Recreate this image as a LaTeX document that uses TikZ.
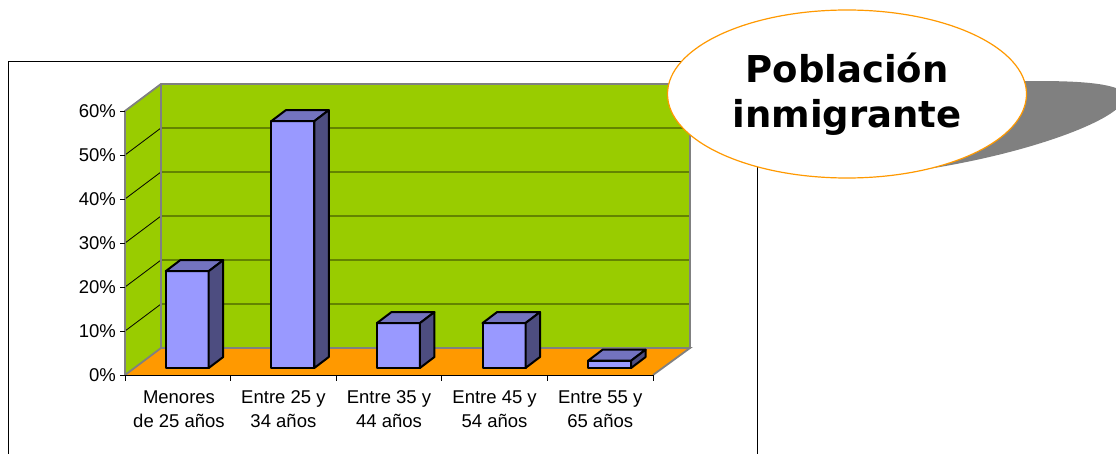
\documentclass[tikz,border=0pt]{standalone}
\usepackage{fontspec}
\setmainfont{Liberation Sans}
\newfontfamily\titlefont{DejaVu Sans}
\usetikzlibrary{shapes.geometric}
\definecolor{wallc}{HTML}{99CC00}
\definecolor{floorc}{HTML}{FF9900}
\definecolor{edgegray}{HTML}{808080}
\definecolor{barfront}{HTML}{9999FF}
\definecolor{bartop}{HTML}{7373BF}
\definecolor{barside}{HTML}{4D4D80}
\definecolor{shadowc}{HTML}{808080}
\definecolor{titleedge}{HTML}{FF9900}
\begin{document}
\begin{tikzpicture}[x=1pt,y=-1pt,
  edge/.style={draw=edgegray,line width=1.8pt},
  grid/.style={draw=black,line width=0.8pt},
  barline/.style={draw=black,line width=2pt,line join=round},
  ylab/.style={anchor=east,inner sep=0pt,font=\fontsize{18.5}{24}\selectfont},
  catlab/.style={align=center,inner sep=0pt,font=\fontsize{18.5}{24}\selectfont},
  titlebox/.style={ellipse,draw=titleedge,line width=1.2pt,fill=white,minimum width=359pt,minimum height=168pt,inner sep=0pt,align=center,font=\titlefont\bfseries\fontsize{37}{45}\selectfont}]
\useasboundingbox (0,0) rectangle (1116,454);
\fill[white] (0,0) rectangle (1116,454);
% outer frame
\draw[line width=1pt] (8,62) rectangle (757,490);
% walls and floor
\fill[wallc] (125,111) -- (161,84) -- (161,348) -- (125,375) -- cycle;
\fill[wallc] (161,84) rectangle (690,348);
\fill[floorc] (125,375) -- (161,348) -- (690,348) -- (653,375) -- cycle;
\foreach \k in {1,...,5}{
  \draw[grid] (125,{375-44*\k}) -- (161,{348-44*\k}) -- (690,{348-44*\k});
}
\draw[edge] (125,375) -- (125,111) -- (161,84) -- (690,84) -- (690,348);
\draw[edge] (161,84) -- (161,348) -- (690,348) -- (653,375);
\draw[edge] (125,375) -- (161,348);
\draw[line width=1pt] (125,375) -- (653,375);
% y ticks and labels
\foreach \k in {0,...,6}{
  \draw[line width=0.9pt] (120,{375-44*\k}) -- (125,{375-44*\k});
  \pgfmathtruncatemacro\pc{10*\k}
  \node[ylab] (y\k) at (116,{375-44*\k}) {\pc\%};
}
% category ticks
\foreach \k in {0,...,5}{
  \draw[line width=0.9pt] ({125+105.6*\k},375) -- ({125+105.6*\k},381);
}
% bars
\foreach \i/\v in {1/22.0,2/56.1,3/10.2,4/10.2,5/1.66}{
  \pgfmathsetmacro\cx{125+(\i-0.5)*105.6+9.4}
  \pgfmathsetmacro\xl{\cx-21.5}
  \pgfmathsetmacro\xr{\cx+21.5}
  \pgfmathsetmacro\yt{368-\v*4.4}
  \filldraw[barline,fill=barfront] (\xl,368) rectangle (\xr,\yt);
  \filldraw[barline,fill=bartop] (\xl,\yt) -- ++(14.5,-11) -- ({\xr+14.5},{\yt-11}) -- (\xr,\yt) -- cycle;
  \filldraw[barline,fill=barside] (\xr,\yt) -- ++(14.5,-11) -- ({\xr+14.5},357) -- (\xr,368) -- cycle;
}
% category labels
\node[catlab] (c1) at (179,409) {Menores\\de 25 años};
\node[catlab] (c2) at (283.4,409) {Entre 25 y\\34 años};
\node[catlab] (c3) at (389,409) {Entre 35 y\\44 años};
\node[catlab] (c4) at (494.6,409) {Entre 45 y\\54 años};
\node[catlab] (c5) at (600.2,409) {Entre 55 y\\65 años};
% title shadow
\fill[shadowc] (870,176) .. controls (1000,165) and (1130,120) .. (1125,95)
  .. controls (1120,80) and (1050,80) .. (1000,82) -- (850,100) -- cycle;
% title
\node[titlebox] (title) at (847,94) {Población\\inmigrante};
\end{tikzpicture}
\end{document}
